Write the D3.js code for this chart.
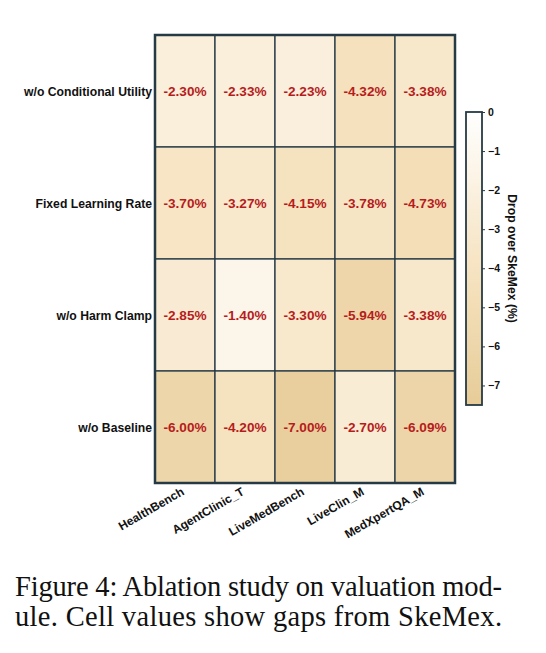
<!DOCTYPE html>
<html>
<head>
<meta charset="utf-8">
<script src="https://cdn.jsdelivr.net/npm/d3@7"></script>
<style>
  body { margin: 0; background: #fff; }
  text { font-family: "Liberation Sans", Arial, sans-serif; }
</style>
</head>
<body>
<div id="chart"></div>
<script>
// data
const rows = ["w/o Conditional Utility", "Fixed Learning Rate", "w/o Harm Clamp", "w/o Baseline"];
const cols = ["HealthBench", "AgentClinic_T", "LiveMedBench", "LiveClin_M", "MedXpertQA_M"];
const values = [
  [-2.30, -2.33, -2.23, -4.32, -3.38],
  [-3.70, -3.27, -4.15, -3.78, -4.73],
  [-2.85, -1.40, -3.30, -5.94, -3.38],
  [-6.00, -4.20, -7.00, -2.70, -6.09]
];
const cbarTicks = [0, -1, -2, -3, -4, -5, -6, -7];
const captionLines = ["Figure 4: Ablation study on valuation mod-", "ule. Cell values show gaps from SkeMex."];

const width = 546, height = 653;
const svg = d3.select("#chart").append("svg").attr("width", width).attr("height", height);

const mapLeft = 155, mapTop = 35, cellW = 60, cellH = 112;
const x = d3.scaleBand().domain(cols).range([mapLeft, mapLeft + cellW * cols.length]);
const y = d3.scaleBand().domain(rows).range([mapTop, mapTop + cellH * rows.length]);

const color = d3.scaleLinear()
  .domain([0, -4, -7.5])
  .range(["#ffffff", "#f6e3c1", "#e7cc98"])
  .clamp(true);

const edge = "#263a45";

// cells
const cells = [];
values.forEach((r, i) => r.forEach((v, j) => cells.push({ row: rows[i], col: cols[j], v })));

svg.append("g").selectAll("rect").data(cells).enter().append("rect")
  .attr("x", d => x(d.col)).attr("y", d => y(d.row))
  .attr("width", x.bandwidth()).attr("height", y.bandwidth())
  .attr("fill", d => color(d.v))
  .attr("stroke", edge).attr("stroke-width", 1.3);

svg.append("g").selectAll("text").data(cells).enter().append("text")
  .attr("x", d => x(d.col) + x.bandwidth() / 2)
  .attr("y", d => y(d.row) + y.bandwidth() / 2 + 5)
  .attr("text-anchor", "middle")
  .attr("font-size", 13.6).attr("font-weight", "bold").attr("fill", "#b71c1c")
  .text(d => d.v.toFixed(2) + "%");

// outer frame
svg.append("rect")
  .attr("x", x.range()[0]).attr("y", y.range()[0])
  .attr("width", x.range()[1] - x.range()[0]).attr("height", y.range()[1] - y.range()[0])
  .attr("fill", "none").attr("stroke", edge).attr("stroke-width", 2.5);

// row labels
svg.append("g").selectAll("text").data(rows).enter().append("text")
  .attr("x", mapLeft - 3)
  .attr("y", d => y(d) + y.bandwidth() / 2 + 4.5)
  .attr("text-anchor", "end")
  .attr("font-size", 12.2).attr("font-weight", "bold").attr("fill", "#111")
  .text(d => d);

// column labels
svg.append("g").selectAll("text").data(cols).enter().append("text")
  .attr("transform", d => `translate(${x(d) + x.bandwidth() / 2}, ${y.range()[1] + 11}) rotate(-30)`)
  .attr("text-anchor", "end")
  .attr("font-size", 12).attr("font-weight", "bold").attr("fill", "#111")
  .text(d => d);

// colorbar
const cbX = 466, cbW = 16, cbTop = 112, cbBot = 405;
const cbScale = d3.scaleLinear().domain([0, -7.5]).range([cbTop, cbBot]);

const defs = svg.append("defs");
const grad = defs.append("linearGradient").attr("id", "cbgrad")
  .attr("x1", 0).attr("x2", 0).attr("y1", 0).attr("y2", 1);
d3.range(0, 1.0001, 0.1).forEach(t => {
  grad.append("stop").attr("offset", t).attr("stop-color", color(-7.5 * t));
});

svg.append("rect")
  .attr("x", cbX).attr("y", cbTop).attr("width", cbW).attr("height", cbBot - cbTop)
  .attr("fill", "url(#cbgrad)").attr("stroke", edge).attr("stroke-width", 1.8);

const cbAxis = d3.axisRight(cbScale).tickValues(cbarTicks).tickSize(3).tickPadding(3)
  .tickFormat(d => d === 0 ? "0" : "\u2212" + Math.abs(d));
const cbG = svg.append("g").attr("transform", `translate(${cbX + cbW}, 0)`).call(cbAxis);
cbG.select(".domain").remove();
cbG.selectAll(".tick line").attr("stroke", edge);
cbG.selectAll(".tick text").attr("font-size", 10.5).attr("font-weight", "bold").attr("fill", "#111")
  .attr("font-family", "Liberation Sans, Arial, sans-serif");

svg.append("text")
  .attr("transform", `translate(508, ${(cbTop + cbBot) / 2}) rotate(90)`)
  .attr("text-anchor", "middle")
  .attr("font-size", 12.2).attr("font-weight", "bold").attr("fill", "#111")
  .text("Drop over SkeMex (%)");

// caption
svg.append("g").selectAll("text").data(captionLines).enter().append("text")
  .attr("x", 15).attr("y", (d, i) => 596 + i * 30)
  .style("font-family", "'Liberation Serif', 'Times New Roman', serif")
  .attr("font-size", 28.5).attr("fill", "#111")
  .attr("textLength", 487).attr("lengthAdjust", "spacing")
  .text(d => d);
</script>
</body>
</html>
